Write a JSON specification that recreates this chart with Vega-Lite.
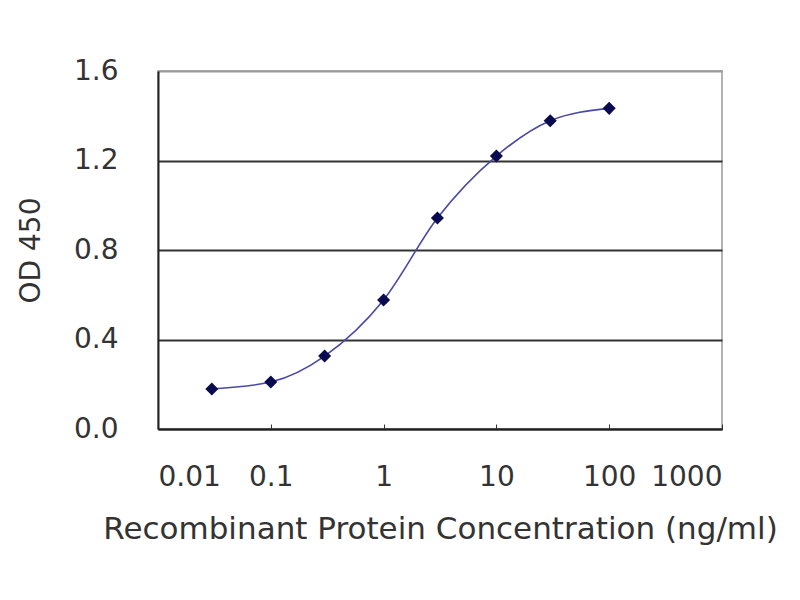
{
  "$schema": "https://vega.github.io/schema/vega-lite/v6.json",
  "width": 564,
  "height": 358,
  "autosize": {"type": "none"},
  "padding": {"left": 158, "top": 71, "right": 78, "bottom": 171},
  "background": "white",
  "data": {
    "values": [
      {"conc": 0.03, "od": 0.179},
      {"conc": 0.1, "od": 0.21},
      {"conc": 0.3, "od": 0.326},
      {"conc": 1, "od": 0.577},
      {"conc": 3, "od": 0.943},
      {"conc": 10, "od": 1.22},
      {"conc": 30, "od": 1.378},
      {"conc": 100, "od": 1.433}
    ]
  },
  "encoding": {
    "x": {
      "field": "conc",
      "type": "quantitative",
      "title": "Recombinant Protein Concentration (ng/ml)",
      "scale": {"type": "log", "domain": [0.01, 1000], "nice": false},
      "axis": {
        "values": [0.01, 0.1, 1, 10, 100, 1000],
        "format": "~g",
        "grid": false,
        "tickSize": -5,
        "tickColor": "#333",
        "labelPadding": 39,
        "titlePadding": 23,
        "titleFontSize": 31
      }
    },
    "y": {
      "field": "od",
      "type": "quantitative",
      "title": "OD 450",
      "scale": {"domain": [0, 1.6], "nice": false},
      "axis": {
        "values": [0, 0.4, 0.8, 1.2, 1.6],
        "format": ".1f",
        "ticks": false,
        "grid": true,
        "gridColor": {"condition": {"test": "datum.value >= 1.6", "value": "#9a9a9a"}, "value": "#333333"},
        "gridWidth": 1.8,
        "labelPadding": 40,
        "titlePadding": 28
      }
    }
  },
  "layer": [
    {
      "mark": {"type": "line", "interpolate": "monotone", "color": "#4848a8", "strokeWidth": 1.6}
    },
    {
      "mark": {"type": "point", "shape": "diamond", "filled": true, "opacity": 1, "size": 170, "color": "#0a0a50"}
    }
  ],
  "config": {
    "font": "DejaVu Sans",
    "view": {"stroke": "#9a9a9a", "strokeWidth": 1.5},
    "axis": {
      "domainColor": "#222222",
      "domainWidth": 2,
      "labelFont": "DejaVu Sans",
      "labelFontSize": 28,
      "labelColor": "#333333",
      "titleFont": "DejaVu Sans",
      "titleFontSize": 28,
      "titleFontWeight": "normal",
      "titleColor": "#333333"
    }
  }
}
